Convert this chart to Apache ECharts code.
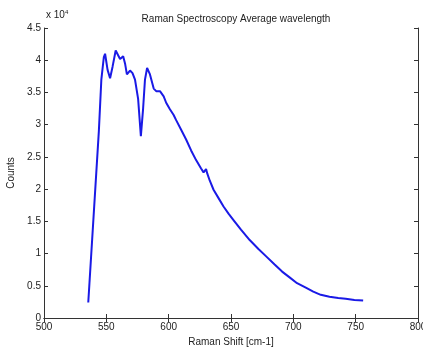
<!DOCTYPE html>
<html>
<head>
<meta charset="utf-8">
<script src="https://cdn.jsdelivr.net/npm/echarts@6/dist/echarts.min.js"></script>
<style>
  html, body { margin: 0; padding: 0; background: #fff; }
  #chart { width: 423px; height: 348px; }
</style>
</head>
<body>
<div id="chart"></div>
<script>
// Raman shift (cm-1) and counts (x 10^4)
const ramanShift = [
  535.5, 544, 546, 548, 549, 551, 553, 555, 557.5, 559, 561, 563.5, 565, 566.5,
  569, 571, 573, 575.5, 577.7, 579.5, 581, 582.7, 585, 588, 590, 593, 596, 598,
  601, 604, 606, 610, 614, 618, 622, 626, 628, 630, 631, 633, 636, 640, 644, 648,
  652, 658, 665, 672, 678, 685, 691, 697, 703, 710, 716, 722, 729, 736, 742, 749, 756
];
const counts = [
  0.24, 2.9, 3.7, 4.05, 4.10, 3.85, 3.72, 3.9, 4.15, 4.12, 4.02, 4.06, 3.95, 3.78,
  3.84, 3.80, 3.70, 3.40, 2.82, 3.25, 3.70, 3.88, 3.78, 3.56, 3.52, 3.52, 3.44, 3.34,
  3.24, 3.15, 3.07, 2.92, 2.77, 2.60, 2.45, 2.32, 2.26, 2.31, 2.24, 2.13, 1.99, 1.86, 1.73, 1.62,
  1.52, 1.37, 1.21, 1.07, 0.96, 0.83, 0.72, 0.63, 0.54, 0.47, 0.41, 0.36, 0.33, 0.31, 0.30, 0.28, 0.27
];

const xMin = 500, xMax = 800, xStep = 50;
const yMin = 0, yMax = 4.5, yStep = 0.5;

const font = 'Liberation Sans';
const axisColor = '#333';

const chart = echarts.init(document.getElementById('chart'));

const tickStyle = { show: true, inside: true, length: 4, lineStyle: { color: axisColor } };

const option = {
  animation: false,
  backgroundColor: '#fff',
  title: {
    text: 'Raman Spectroscopy Average wavelength',
    left: 231,
    textAlign: 'center',
    top: 9,
    textStyle: { fontFamily: font, fontSize: 10, fontWeight: 'normal', color: '#222' },
  },
  graphic: [
    {
      type: 'text',
      left: 46,
      top: 9,
      style: {
        text: 'x 10{s|4}',
        rich: { s: { fontSize: 6, verticalAlign: 'top', padding: [0, 0, 6, 0] } },
        fontFamily: font,
        fontSize: 10,
        fill: '#222',
      },
    },
  ],
  grid: { left: 44, right: 5, top: 28, bottom: 30, show: false, outerBoundsMode: 'none', containLabel: false },
  xAxis: [
    {
      type: 'value',
      min: xMin, max: xMax, interval: xStep,
      position: 'bottom',
      name: 'Raman Shift [cm-1]',
      nameLocation: 'middle',
      nameGap: 17,
      nameTextStyle: { fontFamily: font, fontSize: 10, color: '#222' },
      axisLine: { show: true, lineStyle: { color: axisColor } },
      axisTick: tickStyle,
      axisLabel: { fontFamily: font, fontSize: 10, color: '#222', margin: 4, showMaxLabel: true },
      splitLine: { show: false },
    },
    {
      type: 'value',
      min: xMin, max: xMax, interval: xStep,
      position: 'top',
      axisLine: { show: true, lineStyle: { color: axisColor } },
      axisTick: tickStyle,
      axisLabel: { show: false },
      splitLine: { show: false },
    },
  ],
  yAxis: [
    {
      type: 'value',
      min: yMin, max: yMax, interval: yStep,
      position: 'left',
      name: 'Counts',
      nameLocation: 'middle',
      nameGap: 23,
      nameTextStyle: { fontFamily: font, fontSize: 10, color: '#222' },
      axisLine: { show: true, lineStyle: { color: axisColor } },
      axisTick: tickStyle,
      axisLabel: { fontFamily: font, fontSize: 10, color: '#222', margin: 3 },
      splitLine: { show: false },
    },
    {
      type: 'value',
      min: yMin, max: yMax, interval: yStep,
      position: 'right',
      axisLine: { show: true, lineStyle: { color: axisColor } },
      axisTick: tickStyle,
      axisLabel: { show: false },
      splitLine: { show: false },
    },
  ],
  series: [
    {
      name: 'Counts',
      type: 'line',
      data: ramanShift.map((x, i) => [x, counts[i]]),
      showSymbol: false,
      symbol: 'none',
      lineStyle: { color: '#1a1ae6', width: 2 },
    },
  ],
};

chart.setOption(option);
</script>
</body>
</html>
